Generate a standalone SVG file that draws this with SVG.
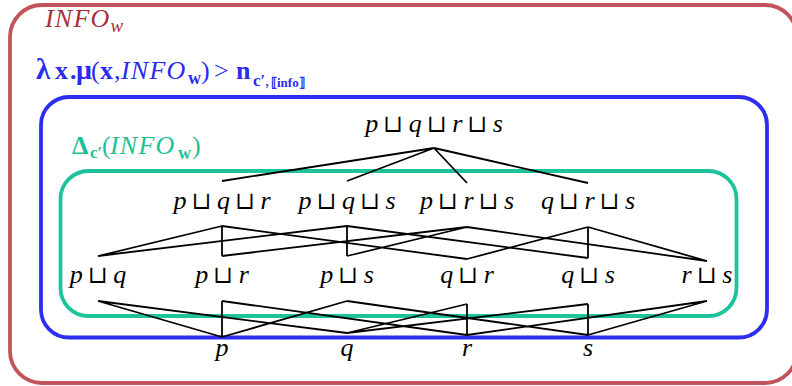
<svg xmlns="http://www.w3.org/2000/svg" width="792" height="386" viewBox="0 0 792 386">
<style>
.lbl{font-family:"Liberation Serif","DejaVu Serif",serif;font-style:italic;font-size:26px;fill:#000}
.op{font-family:"DejaVu Serif",serif;font-style:normal;font-size:24px;text-anchor:middle}
.edge{stroke:#000;stroke-width:1.8;fill:none}
.frame{fill:none;stroke-width:3.8}
.math{font-family:"Liberation Serif","DejaVu Serif",serif;font-size:26px}
.b{font-weight:bold}
.i{font-style:italic}
.wide{letter-spacing:1.2px}
</style>
<g id="frame-info">
<rect class="frame" x="10" y="5" width="787" height="378" rx="32" stroke="#c0545a"/>
<text class="math i" x="45" y="27" fill="#a8323a" font-size="24"><tspan class="wide">INFO</tspan><tspan font-size="19" dy="5">w</tspan></text>
</g>
<g id="frame-mu">
<rect class="frame" x="41" y="97" width="726" height="240.5" rx="28" stroke="#2d2df2"/>
<text class="math" y="79" fill="#2a2af0"><tspan class="b" x="36" font-size="29">λ</tspan><tspan class="b" x="55">x</tspan><tspan class="b" x="70">.</tspan><tspan class="b" x="76" font-size="28">μ</tspan><tspan x="91">(</tspan><tspan class="b" x="100">x</tspan><tspan x="114">,</tspan><tspan class="i wide" x="121">INFO</tspan><tspan class="b" x="188" y="84" font-size="18">w</tspan><tspan x="201" y="79">)</tspan><tspan x="214">&gt;</tspan><tspan class="b" x="236">n</tspan><tspan class="b" x="253" y="86" font-size="17">c′</tspan><tspan x="265" font-size="17">,</tspan><tspan class="b" x="271" y="87" font-size="13">⟦info⟧</tspan></text>
</g>
<g id="frame-delta">
<rect class="frame" x="60.5" y="171" width="676" height="145" rx="28" stroke="#1cc39b"/>
<text class="math" y="154" fill="#1fbf96" font-size="25"><tspan class="b" x="72">Δ</tspan><tspan class="b" x="90" y="158" font-size="17">c′</tspan><tspan x="102" y="154">(</tspan><tspan class="i wide" x="110">INFO</tspan><tspan class="b" x="178" y="159" font-size="18">w</tspan><tspan x="192" y="154">)</tspan></text>
</g>
<g id="connectors">
<path class="edge" d="M434,148L222,181M434,148L347,181M434,148L467,183M434,148L588,183"/>
<path class="edge" d="M222,226L98,256M222,226L222,256M222,226L467,259M347,226L98,256M347,226L347,256M347,226L588,258M467,227L222,256M467,227L347,256M467,227L707,261M588,227L467,259M588,227L588,258M588,227L707,261"/>
<path class="edge" d="M98,301L222,337M98,301L347,333M222,301L222,337M222,301L467,335M347,301L222,337M347,301L588,335M467,304L347,333M467,304L467,335M588,304L347,333M588,304L588,335M707,301L467,335M707,301L588,335"/>
</g>
<g id="node-pqrs"><text class="lbl" y="132"><tspan x="365.2">p</tspan><tspan class="op" x="393.4">⊔</tspan><tspan x="408.7">q</tspan><tspan class="op" x="437">⊔</tspan><tspan x="452.2">r</tspan><tspan class="op" x="477.6">⊔</tspan><tspan x="492.8">s</tspan></text></g>
<g id="node-pqr"><text class="lbl" y="209"><tspan x="173.5">p</tspan><tspan class="op" x="201.7">⊔</tspan><tspan x="217">q</tspan><tspan class="op" x="245.2">⊔</tspan><tspan x="260.5">r</tspan></text></g>
<g id="node-pqs"><text class="lbl" y="209"><tspan x="298.5">p</tspan><tspan class="op" x="326.7">⊔</tspan><tspan x="342">q</tspan><tspan class="op" x="370.2">⊔</tspan><tspan x="385.5">s</tspan></text></g>
<g id="node-prs"><text class="lbl" y="209"><tspan x="419.9">p</tspan><tspan class="op" x="448.1">⊔</tspan><tspan x="463.4">r</tspan><tspan class="op" x="488.7">⊔</tspan><tspan x="504">s</tspan></text></g>
<g id="node-qrs"><text class="lbl" y="209"><tspan x="540.9">q</tspan><tspan class="op" x="569.1">⊔</tspan><tspan x="584.4">r</tspan><tspan class="op" x="609.7">⊔</tspan><tspan x="625">s</tspan></text></g>
<g id="node-pq"><text class="lbl" y="283"><tspan x="69.7">p</tspan><tspan class="op" x="98">⊔</tspan><tspan x="113.2">q</tspan></text></g>
<g id="node-pr"><text class="lbl" y="283"><tspan x="195.2">p</tspan><tspan class="op" x="223.4">⊔</tspan><tspan x="238.7">r</tspan></text></g>
<g id="node-ps"><text class="lbl" y="283"><tspan x="320.2">p</tspan><tspan class="op" x="348.4">⊔</tspan><tspan x="363.7">s</tspan></text></g>
<g id="node-qr"><text class="lbl" y="283"><tspan x="440.2">q</tspan><tspan class="op" x="468.4">⊔</tspan><tspan x="483.7">r</tspan></text></g>
<g id="node-qs"><text class="lbl" y="283"><tspan x="561.2">q</tspan><tspan class="op" x="589.4">⊔</tspan><tspan x="604.7">s</tspan></text></g>
<g id="node-rs"><text class="lbl" y="283"><tspan x="681.6">r</tspan><tspan class="op" x="707">⊔</tspan><tspan x="722.2">s</tspan></text></g>
<g id="node-p"><text class="lbl" x="222" y="356" text-anchor="middle">p</text></g>
<g id="node-q"><text class="lbl" x="347" y="356" text-anchor="middle">q</text></g>
<g id="node-r"><text class="lbl" x="467" y="356" text-anchor="middle">r</text></g>
<g id="node-s"><text class="lbl" x="588" y="356" text-anchor="middle">s</text></g>
</svg>
